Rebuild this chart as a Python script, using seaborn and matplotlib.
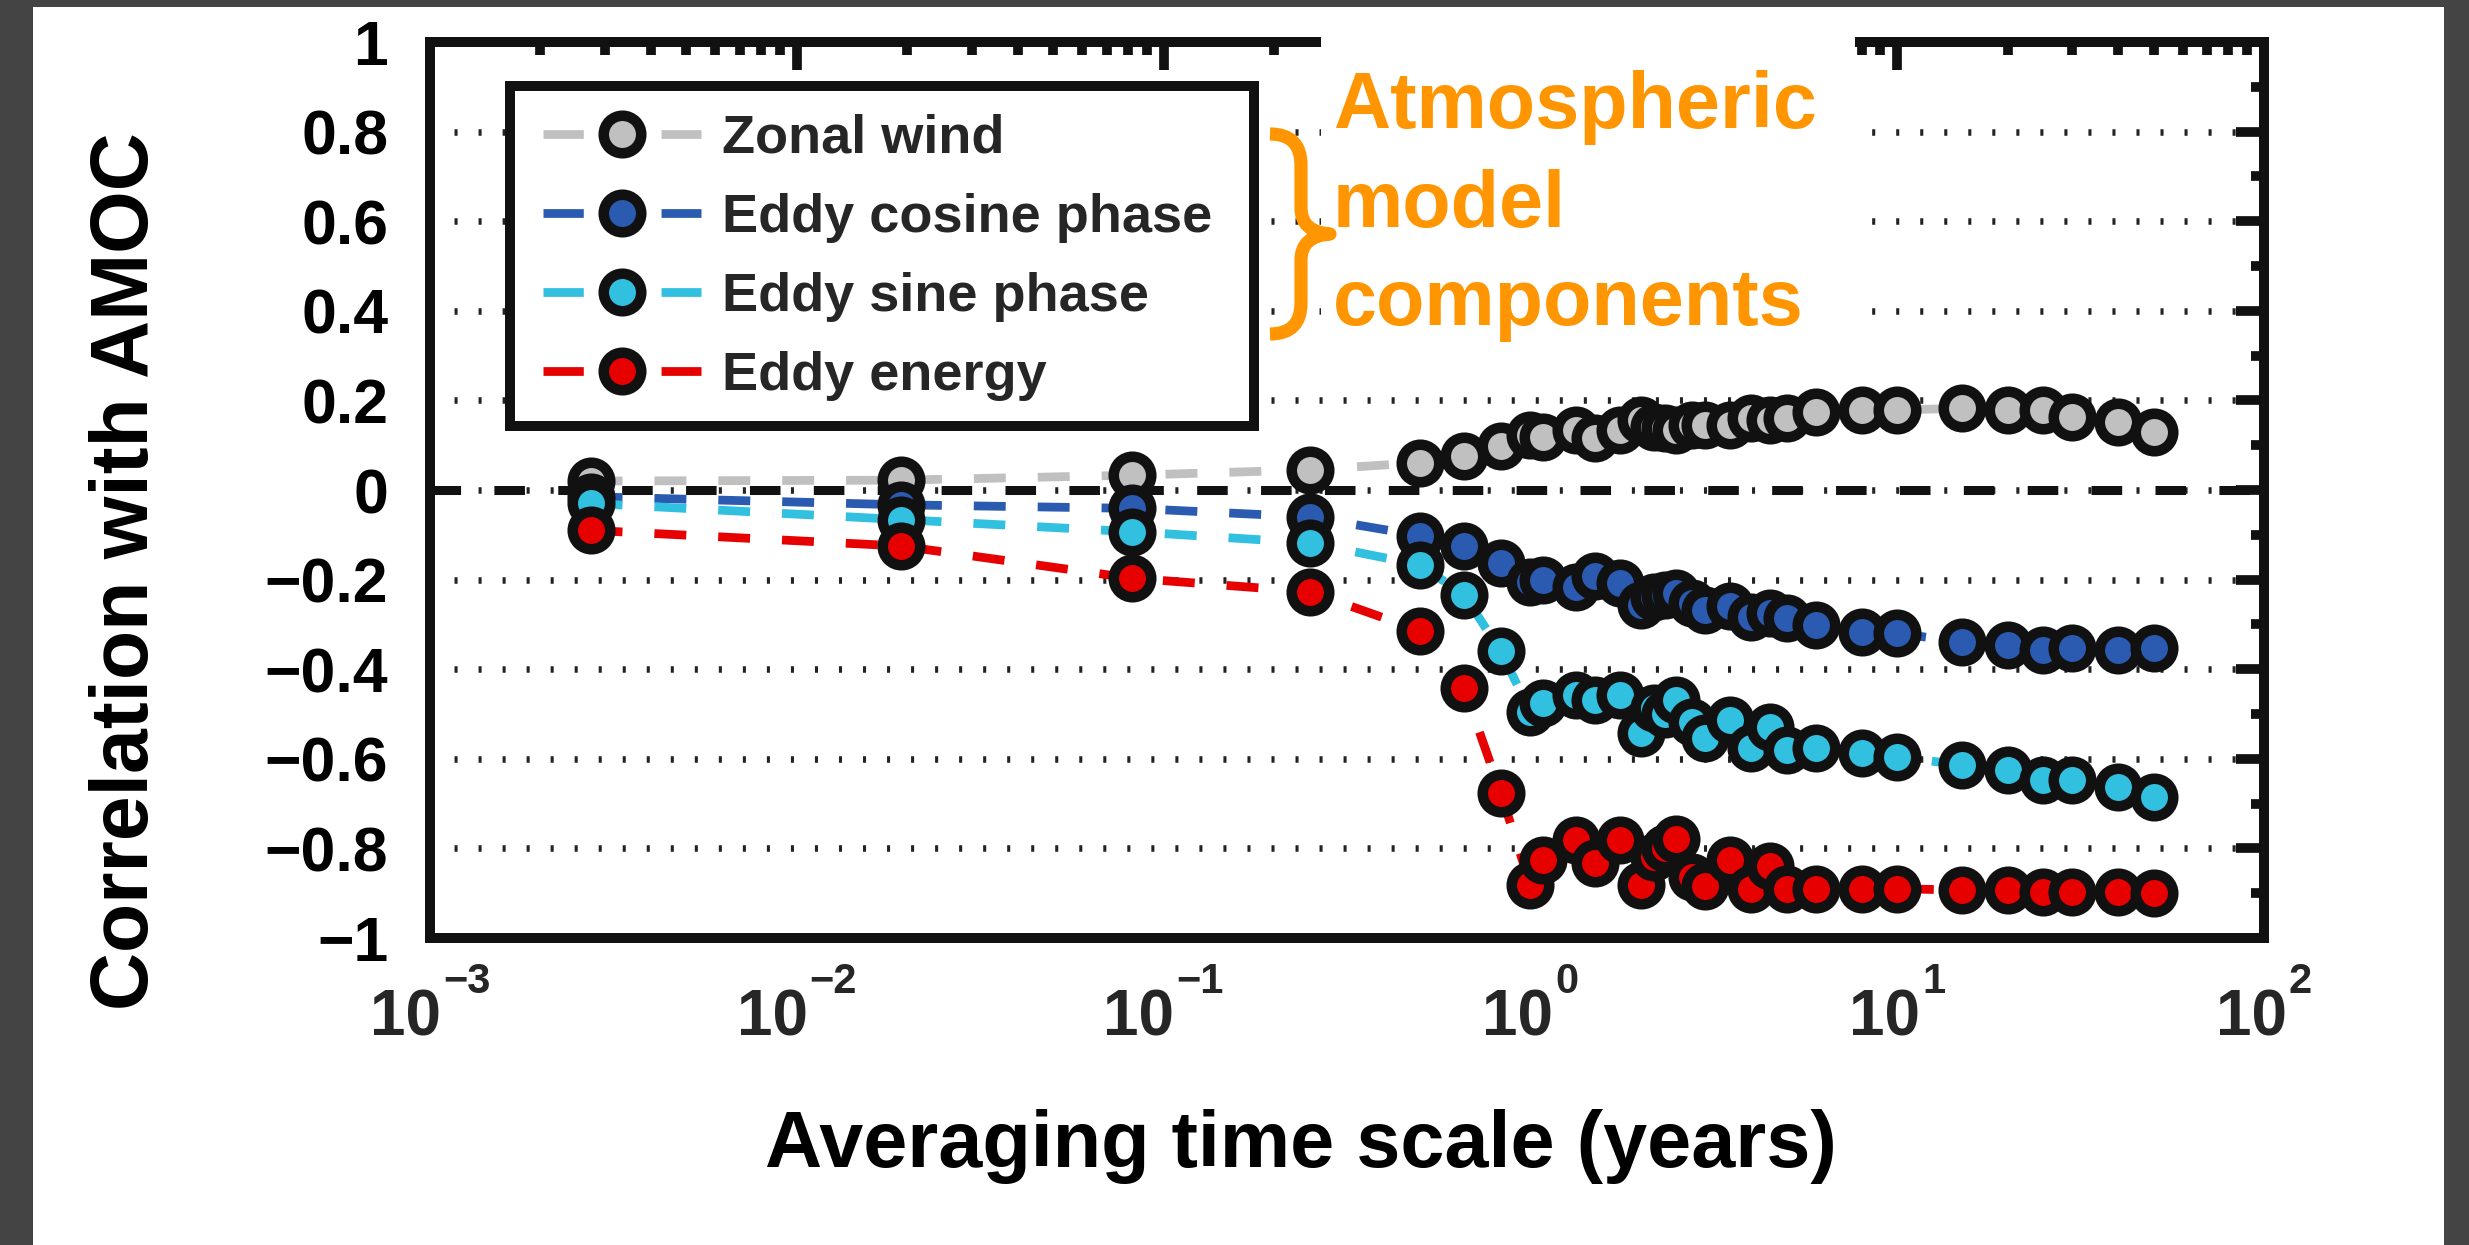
import matplotlib
matplotlib.use("Agg")
import matplotlib.pyplot as plt
import seaborn as sns
import pandas as pd
from matplotlib.patches import Rectangle, PathPatch
from matplotlib.path import Path
from matplotlib.lines import Line2D
from matplotlib.ticker import FixedLocator, LogLocator, NullFormatter

# ---------------- data ----------------
timescale_years = [0.00274, 0.0192, 0.0822, 0.25, 0.5, 0.66, 0.83, 1.0, 1.08, 1.33,
                   1.5, 1.75, 2.0, 2.17, 2.33, 2.5, 2.75, 3.0, 3.5, 4.0,
                   4.5, 5.0, 6.0, 8.0, 10.0, 15.0, 20.0, 25.0, 30.0, 40.0, 50.0]

zonal_wind = [0.02, 0.022, 0.033, 0.045, 0.061, 0.077, 0.098, 0.123, 0.119, 0.134,
              0.115, 0.134, 0.156, 0.141, 0.138, 0.134, 0.145, 0.145, 0.145, 0.16,
              0.156, 0.16, 0.175, 0.179, 0.179, 0.182, 0.179, 0.179, 0.164, 0.152, 0.13]

eddy_cosine = [-0.015, -0.033, -0.041, -0.06, -0.102, -0.126, -0.164, -0.205, -0.201, -0.216,
               -0.193, -0.208, -0.257, -0.238, -0.235, -0.231, -0.253, -0.268, -0.26, -0.283,
               -0.275, -0.286, -0.301, -0.316, -0.32, -0.339, -0.346, -0.357, -0.353, -0.357, -0.353]

eddy_sine = [-0.03, -0.066, -0.093, -0.118, -0.167, -0.234, -0.36, -0.495, -0.476, -0.458,
             -0.469, -0.458, -0.543, -0.487, -0.50, -0.469, -0.517, -0.554, -0.513, -0.575,
             -0.528, -0.58, -0.577, -0.588, -0.595, -0.614, -0.625, -0.647, -0.647, -0.662, -0.685]

eddy_energy = [-0.09, -0.125, -0.197, -0.227, -0.314, -0.443, -0.676, -0.882, -0.826, -0.781,
               -0.833, -0.781, -0.882, -0.819, -0.80, -0.78, -0.863, -0.885, -0.826, -0.89,
               -0.84, -0.89, -0.89, -0.89, -0.89, -0.893, -0.893, -0.897, -0.897, -0.897, -0.90]

series_names = ["Zonal wind", "Eddy cosine phase", "Eddy sine phase", "Eddy energy"]
series_values = [zonal_wind, eddy_cosine, eddy_sine, eddy_energy]
series_colors = ["#C0C0C0", "#2A5BB0", "#31C0DF", "#E60000"]

y_ticks = [-1, -0.8, -0.6, -0.4, -0.2, 0, 0.2, 0.4, 0.6, 0.8, 1]
y_tick_labels = ["\u22121", "\u22120.8", "\u22120.6", "\u22120.4", "\u22120.2", "0",
                 "0.2", "0.4", "0.6", "0.8", "1"]
y_minor_ticks = [-0.9, -0.7, -0.5, -0.3, -0.1, 0.1, 0.3, 0.5, 0.7, 0.9]
x_ticks = [1e-3, 1e-2, 1e-1, 1e0, 1e1, 1e2]
x_tick_base = "10"
x_tick_exponents = ["\u22123", "\u22122", "\u22121", "0", "1", "2"]

x_label = "Averaging time scale (years)"
y_label = "Correlation with AMOC"
note_lines = ["Atmospheric", "model", "components"]

# ---------------- style ----------------
sns.set_style("white")
plt.rcParams["font.family"] = ["Liberation Sans", "DejaVu Sans"]
plt.rcParams["font.weight"] = "bold"
plt.rcParams["lines.scale_dashes"] = False

W, H = 2469, 1245
PT = 0.72  # points per pixel at dpi 100
fig = plt.figure(figsize=(W / 100, H / 100), dpi=100, facecolor="#444444")


def fx(px):
    return px / W


def fy(py):
    return 1 - py / H


# white page inside the dark frame
fig.add_artist(Rectangle((fx(33), 0), fx(2444) - fx(33), fy(7), transform=fig.transFigure,
                         facecolor="white", edgecolor="none", zorder=-10))

ax = fig.add_axes([fx(430), fy(938), (2264 - 430) / W, (938 - 42) / H])
ax.set_facecolor("white")

dark = "#111111"
MS, MEW, LW = 27, 7.6, 6.3
line_style = (0, (23, 23))
for name, vals, col in zip(series_names, series_values, series_colors):
    df = pd.DataFrame({"x": timescale_years, "y": vals})
    sns.lineplot(data=df, x="x", y="y", ax=ax, color=col, estimator=None,
                 linestyle=line_style, linewidth=LW, marker="o", markersize=MS,
                 markeredgewidth=MEW, markeredgecolor=dark, markerfacecolor=col,
                 legend=False, zorder=3)

ax.axhline(0, color=dark, linewidth=6.5, linestyle=(0, (22, 24)), zorder=2)

ax.set_xscale("log")
ax.set_xlim(1e-3, 1e2)
ax.set_ylim(-1, 1)
ax.set_xticks(x_ticks)
ax.set_xticklabels([""] * len(x_ticks))
ax.xaxis.set_minor_locator(LogLocator(base=10, subs=range(2, 10), numticks=20))
ax.xaxis.set_minor_formatter(NullFormatter())
ax.set_yticks(y_ticks)
ax.set_yticklabels(y_tick_labels)
ax.yaxis.set_minor_locator(FixedLocator(y_minor_ticks))
ax.set_xlabel("")
ax.set_ylabel("")

ax.yaxis.grid(True, which="major", linestyle=(0, (2.2, 15.1)), linewidth=4.7, color="#222222")
ax.xaxis.grid(False)
ax.set_axisbelow(True)

ax.tick_params(which="major", direction="in", length=20, width=7, color=dark,
               top=True, right=True, labelsize=45, labelcolor="black")
ax.tick_params(which="minor", direction="in", length=9.5, width=7, color=dark,
               top=True, right=True)
ax.tick_params(axis="y", which="major", pad=30)
for lab in ax.get_yticklabels():
    lab.set_fontweight("bold")

for sp in ax.spines.values():
    sp.set_linewidth(7.2)
    sp.set_color(dark)
    sp.set_visible(True)

# x tick labels: "10" with a raised exponent, the pair centred on the tick
base_fs, exp_fs = 46, 30
base_w = 1.112 * base_fs / PT          # px
for v, e in zip(x_ticks, x_tick_exponents):
    exp_w = (1.14 if e.startswith("\u2212") else 0.556) * exp_fs / PT
    total = base_w + 2 + exp_w
    left = -total / 2
    ax.annotate(x_tick_base, xy=(v, 0), xycoords=("data", "axes fraction"),
                xytext=(left * PT, -97 * PT), textcoords="offset points",
                ha="left", va="baseline", fontsize=base_fs, fontweight="bold",
                annotation_clip=False)
    ax.annotate(e, xy=(v, 0), xycoords=("data", "axes fraction"),
                xytext=((left + base_w + 2) * PT, -55 * PT), textcoords="offset points",
                ha="left", va="baseline", fontsize=exp_fs, fontweight="bold",
                annotation_clip=False)

# legend (frame drawn separately for exact size)
ax.add_patch(Rectangle((fx(510), fy(426)), (1254 - 510) / W, (426 - 86) / H,
                       transform=fig.transFigure, facecolor="white", edgecolor=dark,
                       linewidth=7.2, zorder=9, clip_on=False))
handles = [Line2D([], [], color=c, linestyle=(0, (29, 56)), linewidth=LW, marker="o",
                  markersize=MS, markeredgewidth=MEW, markeredgecolor=dark,
                  markerfacecolor=c) for c in series_colors]
leg = ax.legend(handles, series_names, loc="center left",
                bbox_to_anchor=(fx(543), fy(257.5)), bbox_transform=fig.transFigure,
                borderaxespad=0, frameon=False,
                prop=dict(family="Liberation Sans", weight="bold", size=39),
                handlelength=2.92, handletextpad=0.38, labelspacing=0.536,
                borderpad=0, numpoints=1)
leg.set_zorder(10)

# white box behind the annotation (covers top spine)
fig.add_artist(Rectangle((fx(1321), fy(365)), (1855 - 1321) / W, (365 - 25) / H,
                         transform=fig.transFigure, facecolor="white",
                         edgecolor="none", zorder=1))

orange = "#FF9500"
for txt, base in zip(note_lines, [128, 227, 325]):
    fig.text(fx(1333), fy(base), txt, ha="left", va="baseline", fontsize=57,
             fontweight="bold", color=orange, zorder=4)

# curly brace
pts = [(1270, 134), (1301, 134), (1301, 165), (1301, 208), (1301, 232), (1330, 234),
       (1301, 236), (1301, 260), (1301, 303), (1301, 334), (1270, 334)]
codes = [Path.MOVETO, Path.CURVE3, Path.CURVE3, Path.LINETO, Path.CURVE3, Path.CURVE3,
         Path.CURVE3, Path.CURVE3, Path.LINETO, Path.CURVE3, Path.CURVE3]
brace = Path([(fx(x), fy(y)) for x, y in pts], codes)
fig.add_artist(PathPatch(brace, transform=fig.transFigure, facecolor="none",
                         edgecolor=orange, linewidth=9.5, capstyle="butt",
                         joinstyle="round", zorder=4))

# axis labels
fig.text(fx(148), fy(571), y_label, rotation=90, rotation_mode="anchor", ha="center",
         va="baseline", fontsize=58, fontweight="bold", color="black")
fig.text(fx(1301), fy(1167), x_label, ha="center", va="baseline", fontsize=57,
         fontweight="bold", color="black")

fig.savefig("out.png", dpi=100, facecolor=fig.get_facecolor())
